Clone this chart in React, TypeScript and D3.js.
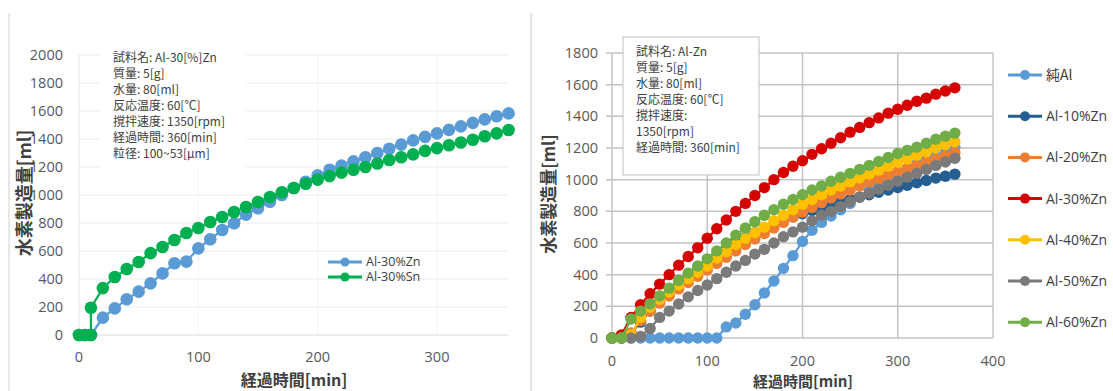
import React from 'react';
import * as d3 from 'd3';

// ---- left chart data (Al-30%Zn vs Al-30%Sn) ----
const leftZnTimes = [0, 5, 10, 20, 30, 40, 50, 60, 70, 80, 90, 100, 110, 120, 130, 140, 150, 160, 170, 180, 190, 200, 210, 220, 230, 240, 250, 260, 270, 280, 290, 300, 310, 320, 330, 340, 350, 360];
const leftZn30 = [0, 0, 0, 124, 190, 255, 310, 369, 440, 512, 524, 619, 684, 750, 798, 860, 905, 952, 1000, 1050, 1095, 1140, 1180, 1210, 1240, 1270, 1300, 1330, 1360, 1390, 1415, 1440, 1465, 1490, 1515, 1540, 1562, 1583];
const leftSnTimes = [0, 5, 10, 10, 20, 30, 40, 50, 60, 70, 80, 90, 100, 110, 120, 130, 140, 150, 160, 170, 180, 190, 200, 210, 220, 230, 240, 250, 260, 270, 280, 290, 300, 310, 320, 330, 340, 350, 360];
const leftSn30 = [0, 0, 0, 195, 335, 414, 471, 521, 585, 629, 679, 729, 764, 807, 843, 879, 914, 950, 986, 1020, 1050, 1080, 1110, 1135, 1160, 1180, 1200, 1225, 1250, 1270, 1290, 1315, 1335, 1355, 1375, 1395, 1420, 1440, 1464];
const leftXTicks = [0, 100, 200, 300];
const leftYTicks = [0, 200, 400, 600, 800, 1000, 1200, 1400, 1600, 1800, 2000];
const leftNote = ['試料名: Al-30[%]Zn', '質量: 5[g]', '水量: 80[ml]', '反応温度: 60[℃]', '撹拌速度: 1350[rpm]', '経過時間: 360[min]', '粒径: 100~53[μm]'];

// ---- right chart data (Al-Zn series) ----
const rightTimes = [0, 10, 20, 30, 40, 50, 60, 70, 80, 90, 100, 110, 120, 130, 140, 150, 160, 170, 180, 190, 200, 210, 220, 230, 240, 250, 260, 270, 280, 290, 300, 310, 320, 330, 340, 350, 360];
const pureAl = [0, 0, 0, 0, 0, 0, 0, 0, 0, 0, 0, 0, 70, 95, 150, 210, 285, 360, 440, 520, 610, 680, 730, 770, 810, 850, 890, 930, 965, 1000, 1035, 1070, 1105, 1140, 1170, 1190, 1205];
const zn10 = [0, 0, 30, 100, 170, 230, 285, 340, 390, 435, 480, 520, 560, 600, 635, 665, 695, 720, 745, 765, 785, 805, 825, 845, 860, 875, 890, 905, 920, 935, 950, 965, 980, 995, 1010, 1022, 1035];
const zn20 = [0, 10, 30, 110, 170, 220, 265, 310, 350, 390, 430, 470, 510, 550, 590, 625, 660, 695, 730, 765, 795, 825, 855, 885, 910, 935, 960, 985, 1005, 1030, 1050, 1070, 1090, 1110, 1130, 1150, 1170];
const zn30 = [0, 20, 130, 210, 280, 340, 400, 460, 515, 570, 630, 690, 745, 800, 850, 900, 950, 1000, 1045, 1085, 1120, 1160, 1195, 1230, 1265, 1300, 1330, 1360, 1390, 1420, 1445, 1470, 1495, 1515, 1540, 1560, 1580];
const zn40 = [0, 0, 20, 130, 195, 245, 290, 335, 375, 415, 455, 505, 545, 590, 630, 665, 700, 740, 775, 810, 845, 875, 905, 935, 960, 985, 1010, 1035, 1060, 1085, 1110, 1130, 1155, 1175, 1200, 1220, 1240];
const zn50 = [0, 0, 0, 10, 60, 130, 170, 215, 260, 300, 335, 375, 415, 455, 490, 530, 560, 600, 640, 670, 700, 740, 775, 800, 830, 860, 890, 915, 940, 965, 990, 1015, 1040, 1065, 1090, 1112, 1135];
const zn60 = [0, 0, 120, 170, 215, 265, 315, 365, 410, 455, 500, 550, 600, 650, 695, 735, 775, 810, 845, 875, 905, 935, 960, 990, 1015, 1040, 1065, 1090, 1115, 1140, 1165, 1185, 1205, 1230, 1255, 1275, 1294];
const rightNames = ['純Al', 'Al-10%Zn', 'Al-20%Zn', 'Al-30%Zn', 'Al-40%Zn', 'Al-50%Zn', 'Al-60%Zn'];
const rightValues = [pureAl, zn10, zn20, zn30, zn40, zn50, zn60];
const rightColors = ['#5B9BD5', '#255E91', '#ED7D31', '#D70000', '#FFC000', '#7A7A7A', '#70AD47'];
const rightXTicks = [0, 100, 200, 300, 400];
const rightYTicks = [0, 200, 400, 600, 800, 1000, 1200, 1400, 1600, 1800];
const rightNote = ['試料名: Al-Zn', '質量: 5[g]', '水量: 80[ml]', '反応温度: 60[℃]', '撹拌速度:', '1350[rpm]', '経過時間: 360[min]'];

const W = 1113;
const H = 391;
const jp = '"Noto Sans CJK JP", sans-serif';
const num = '"Open Sans", sans-serif';

type Pt = [number, number];
const zip = (t: number[], v: number[]): Pt[] => t.map((d, i) => [d, v[i]]);

export default function App() {
  // left scales
  const lx = d3.scaleLinear().domain([0, 360]).range([79, 508.6]);
  const ly = d3.scaleLinear().domain([0, 2000]).range([335, 55]);
  const lLine = d3.line<Pt>().x(d => lx(d[0])).y(d => ly(d[1]));
  const leftSeries = [
    { name: 'Al-30%Zn', color: '#5B9BD5', pts: zip(leftZnTimes, leftZn30) },
    { name: 'Al-30%Sn', color: '#00B050', pts: zip(leftSnTimes, leftSn30) },
  ];

  // right scales
  const rx = d3.scaleLinear().domain([0, 400]).range([612, 993]);
  const ry = d3.scaleLinear().domain([0, 1800]).range([338, 53]);
  const rLine = d3.line<Pt>().x(d => rx(d[0])).y(d => ry(d[1]));

  return (
    <svg width={W} height={H} style={{ position: 'absolute', left: 0, top: 0, background: '#fff' }}>
      {/* panel separators */}
      <line x1={9} x2={9} y1={13} y2={H} stroke="#d0d0d0" />
      <line x1={531} x2={531} y1={13} y2={H} stroke="#c8c8c8" />

      {/* ===== left chart ===== */}
      <g>
        {leftYTicks.map(t => (
          <line key={'lg' + t} x1={lx(0)} x2={lx(360)} y1={ly(t)} y2={ly(t)} stroke={t === 0 ? '#d9d9d9' : '#ececec'} />
        ))}
        {leftXTicks.filter(t => t > 0).map(t => (
          <line key={'lv' + t} x1={lx(t)} x2={lx(t)} y1={ly(0)} y2={ly(2000)} stroke="#f2f2f2" />
        ))}
        <line x1={lx(0)} x2={lx(0)} y1={ly(0)} y2={ly(2000)} stroke="#e6e6e6" />
        {/* note box */}
        <rect x={100} y={44} width={146} height={124} fill="#fff" />
        {leftNote.map((s, i) => (
          <text key={'ln' + i} x={113} y={58 + i * 16} dy="0.35em" fontFamily={jp} fontSize={12} fill="#404040">{s}</text>
        ))}
        {leftYTicks.map(t => (
          <text key={'ly' + t} x={63} y={ly(t)} dy="0.35em" textAnchor="end" fontFamily={num} fontSize={14.5} fill="#595959">{t}</text>
        ))}
        {leftXTicks.map(t => (
          <text key={'lx' + t} x={lx(t)} y={357} dy="0.35em" textAnchor="middle" fontFamily={num} fontSize={14.5} fill="#595959">{t}</text>
        ))}
        {leftSeries.map(s => (
          <g key={s.name}>
            <path d={lLine(s.pts) || ''} fill="none" stroke={s.color} strokeWidth={2.25} />
            {s.pts.map((p, i) => (
              <circle key={i} cx={lx(p[0])} cy={ly(p[1])} r={6.3} fill={s.color} />
            ))}
          </g>
        ))}
        {/* legend */}
        {leftSeries.map((s, i) => (
          <g key={'ll' + s.name} transform={`translate(0,${262 + i * 15})`}>
            <line x1={328} x2={362} y1={0} y2={0} stroke={s.color} strokeWidth={3} />
            <circle cx={345} cy={0} r={4.5} fill={s.color} />
            <text x={366} y={0} dy="0.35em" fontFamily={num} fontSize={12.5} fill="#404040">{s.name}</text>
          </g>
        ))}
        <text x={294} y={380} dy="0.35em" textAnchor="middle" fontFamily={jp} fontSize={16} fontWeight={700} fill="#404040">経過時間[min]</text>
        <text transform="translate(25,193) rotate(-90)" dy="0.35em" textAnchor="middle" fontFamily={jp} fontSize={18} fontWeight={700} fill="#404040">水素製造量[ml]</text>
      </g>

      {/* ===== right chart ===== */}
      <g>
        {rightYTicks.map(t => (
          <line key={'rg' + t} x1={606} x2={rx(400)} y1={ry(t)} y2={ry(t)} stroke="#c4c4c4" strokeWidth={1.5} />
        ))}
        {rightXTicks.map(t => (
          <line key={'rv' + t} x1={rx(t)} x2={rx(t)} y1={ry(0)} y2={ry(1800)} stroke="#c4c4c4" strokeWidth={1.5} />
        ))}
        {rightYTicks.map(t => (
          <text key={'ry' + t} x={598} y={ry(t)} dy="0.35em" textAnchor="end" fontFamily={num} fontSize={14.5} fill="#595959">{t}</text>
        ))}
        {rightXTicks.map(t => (
          <text key={'rx' + t} x={rx(t)} y={361} dy="0.35em" textAnchor="middle" fontFamily={num} fontSize={14.5} fill="#595959">{t}</text>
        ))}
        {rightValues.map((vals, si) => {
          const pts = zip(rightTimes, vals);
          return (
            <g key={rightNames[si]}>
              <path d={rLine(pts) || ''} fill="none" stroke={rightColors[si]} strokeWidth={2.25} />
              {pts.map((p, i) => (
                <circle key={i} cx={rx(p[0])} cy={ry(p[1])} r={5.7} fill={rightColors[si]} />
              ))}
            </g>
          );
        })}
        {/* note box */}
        <rect x={623} y={37} width={136} height={138} fill="#fff" stroke="#bfbfbf" />
        {rightNote.map((s, i) => (
          <text key={'rn' + i} x={636} y={52 + i * 16} dy="0.35em" fontFamily={jp} fontSize={12} fill="#404040">{s}</text>
        ))}
        {/* legend */}
        {rightNames.map((n, i) => (
          <g key={'rl' + n} transform={`translate(0,${75 + i * 41.2})`}>
            <line x1={1008} x2={1042} y1={0} y2={0} stroke={rightColors[i]} strokeWidth={3} />
            <circle cx={1025} cy={0} r={5} fill={rightColors[i]} />
            <text x={1046} y={0} dy="0.35em" fontFamily={n === '純Al' ? jp : num} fontSize={14} fill="#404040">{n}</text>
          </g>
        ))}
        <text x={803} y={382} dy="0.35em" textAnchor="middle" fontFamily={jp} fontSize={15} fontWeight={700} fill="#404040">経過時間[min]</text>
        <text transform="translate(549,194) rotate(-90)" dy="0.35em" textAnchor="middle" fontFamily={jp} fontSize={17} fontWeight={700} fill="#404040">水素製造量[ml]</text>
      </g>
    </svg>
  );
}
